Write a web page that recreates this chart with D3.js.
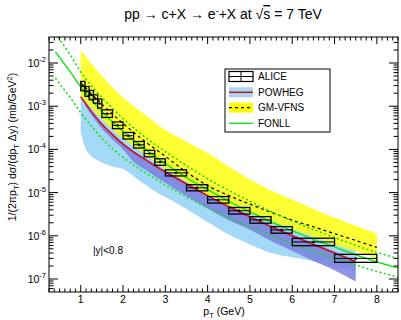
<!DOCTYPE html>
<html>
<head>
<meta charset="utf-8">
<script src="https://cdn.jsdelivr.net/npm/d3@7"></script>
<style>
body { margin: 0; background: #fff; }
svg { font-family: "Liberation Sans", Arial, sans-serif; }
</style>
</head>
<body>
<svg id="chart"></svg>
<script>
// charm electrons, pp at 7 TeV : ALICE data vs POWHEG, GM-VFNS, FONLL

// ALICE points (bins, value, sys up/down relative, stat relative)
const alicePtLow  = [1.0, 1.1, 1.2, 1.3, 1.4, 1.5, 1.75, 2.0, 2.25, 2.5, 2.75, 3.0, 3.5, 4.0, 4.5, 5.0, 5.5, 6.0, 7.0];
const alicePtHigh = [1.1, 1.2, 1.3, 1.4, 1.5, 1.75, 2.0, 2.25, 2.5, 2.75, 3.0, 3.5, 4.0, 4.5, 5.0, 5.5, 6.0, 7.0, 8.0];
const aliceY = [2.93e-3, 2.2e-3, 1.81e-3, 1.47e-3, 1.15e-3, 6.7e-4, 3.6e-4, 2.07e-4, 1.28e-4, 8.0e-5, 5.1e-5, 2.86e-5, 1.29e-5, 6.8e-6, 3.8e-6, 2.33e-6, 1.37e-6, 7.2e-7, 3.0e-7];
const aliceSysUp = [0.28, 0.3, 0.28, 0.25, 0.27, 0.23, 0.2, 0.19, 0.19, 0.19, 0.19, 0.18, 0.18, 0.19, 0.19, 0.19, 0.19, 0.22, 0.24];
const aliceSysDn = [0.22, 0.23, 0.22, 0.2, 0.21, 0.18, 0.16, 0.16, 0.16, 0.16, 0.16, 0.15, 0.15, 0.16, 0.16, 0.16, 0.16, 0.18, 0.19];
const aliceStat = [0.03, 0.03, 0.03, 0.03, 0.03, 0.03, 0.03, 0.03, 0.03, 0.03, 0.03, 0.03, 0.04, 0.04, 0.05, 0.05, 0.06, 0.06, 0.08];

// POWHEG
const powPt = [1.0, 1.1, 1.25, 1.5, 1.75, 2.0, 2.25, 2.5, 2.75, 3.0, 3.5, 4.0, 4.5, 5.0, 5.5, 6.0, 6.5, 7.0, 7.5];
const powCentral = [1.66e-3, 1.2e-3, 7.6e-4, 3.8e-4, 2.2e-4, 1.32e-4, 8.7e-5, 6.0e-5, 4.2e-5, 3.0e-5, 1.58e-5, 8.5e-6, 4.7e-6, 2.75e-6, 1.62e-6, 1.0e-6, 6.3e-7, 4.0e-7, 2.5e-7];
const powUpper = [3.3e-3, 2.4e-3, 1.5e-3, 7.6e-4, 4.4e-4, 2.6e-4, 1.74e-4, 1.2e-4, 8.3e-5, 6.0e-5, 3.2e-5, 1.7e-5, 9.3e-6, 5.5e-6, 3.2e-6, 2.0e-6, 1.26e-6, 7.9e-7, 5.0e-7];
const powLower = [2.5e-4, 1.12e-4, 7.1e-5, 5.0e-5, 4.0e-5, 3.5e-5, 2.4e-5, 1.58e-5, 1.07e-5, 7.9e-6, 4.2e-6, 2.1e-6, 1.07e-6, 6.3e-7, 4.0e-7, 3.2e-7, 2.6e-7, 1.9e-7, 1.58e-7];
// inner (darker) POWHEG band
const powInnerPt = [1.1, 1.25, 1.5, 1.75, 2.0, 2.25, 2.5, 2.75, 3.0, 3.5, 4.0, 4.5, 5.0, 5.5, 6.0, 6.5, 7.0, 7.5];
const powInnerUp = [1.29e-3, 8.1e-4, 4.1e-4, 2.3e-4, 1.41e-4, 9.3e-5, 6.5e-5, 4.5e-5, 3.2e-5, 1.7e-5, 9.1e-6, 5.0e-6, 2.95e-6, 1.74e-6, 1.07e-6, 6.8e-7, 4.3e-7, 2.7e-7];
const powInnerLo = [1.05e-3, 6.3e-4, 3.0e-4, 1.7e-4, 1.0e-4, 5.2e-5, 3.5e-5, 2.4e-5, 1.7e-5, 8.3e-6, 4.3e-6, 2.3e-6, 1.38e-6, 7.6e-7, 4.5e-7, 2.6e-7, 1.6e-7, 8.7e-8];

// GM-VFNS
const gmPt = [1.0, 1.5, 2.0, 2.5, 3.0, 3.5, 4.0, 4.5, 5.0, 5.5, 6.0, 6.5, 7.0, 7.5, 8.0];
const gmCentral = [3.5e-3, 1.12e-3, 4.0e-4, 1.58e-4, 6.9e-5, 3.0e-5, 1.45e-5, 8.5e-6, 5.4e-6, 3.5e-6, 2.3e-6, 1.62e-6, 1.12e-6, 7.8e-7, 5.4e-7];
const gmUpper = [2.0e-2, 5.0e-3, 1.58e-3, 6.6e-4, 2.8e-4, 1.51e-4, 8.3e-5, 4.0e-5, 2.0e-5, 1.12e-5, 6.8e-6, 4.2e-6, 2.6e-6, 1.7e-6, 1.12e-6];
const gmLower = [1.78e-3, 5.0e-4, 1.78e-4, 7.9e-5, 3.5e-5, 1.78e-5, 8.9e-6, 5.0e-6, 3.3e-6, 2.2e-6, 1.41e-6, 9.5e-7, 6.3e-7, 4.4e-7, 3.0e-7];

// FONLL
const fonllPt = [0.4, 0.5, 0.75, 1.0, 1.25, 1.5, 2.0, 2.5, 3.0, 3.5, 4.0, 4.5, 5.0, 5.5, 6.0, 6.5, 7.0, 7.5, 8.0, 8.5];
const fonllCentral = [1.82e-2, 1.35e-2, 6.3e-3, 2.8e-3, 1.4e-3, 7.6e-4, 2.6e-4, 1.05e-4, 4.7e-5, 2.2e-5, 1.17e-5, 6.3e-6, 3.6e-6, 2.1e-6, 1.32e-6, 8.3e-7, 5.5e-7, 3.6e-7, 2.5e-7, 1.8e-7];
const fonllUpper = [4.8e-2, 3.5e-2, 1.55e-2, 6.2e-3, 3.0e-3, 1.6e-3, 5.2e-4, 2.0e-4, 8.9e-5, 4.2e-5, 2.1e-5, 1.12e-5, 6.3e-6, 3.6e-6, 2.2e-6, 1.4e-6, 9.1e-7, 6.0e-7, 4.1e-7, 3.0e-7];
const fonllLower = [4.5e-3, 3.3e-3, 1.6e-3, 7.1e-4, 3.5e-4, 1.8e-4, 6.6e-5, 3.0e-5, 1.5e-5, 7.9e-6, 4.5e-6, 2.6e-6, 1.6e-6, 1.02e-6, 6.6e-7, 4.4e-7, 3.0e-7, 2.1e-7, 1.5e-7, 1.1e-7];

const xMajor = [1, 2, 3, 4, 5, 6, 7, 8];
const yMajor = [1e-7, 1e-6, 1e-5, 1e-4, 1e-3, 1e-2];
const legendItems = ["ALICE", "POWHEG", "GM-VFNS", "FONLL"];

const W = 401, H = 320;
const L = 49, R = 398, T = 37, B = 292;

const svg = d3.select("#chart").attr("width", W).attr("height", H);

const x = d3.scaleLinear().domain([0.25, 8.5]).range([L, R]);
const y = d3.scaleLog().domain([5e-8, 4e-2]).range([B, T]);

svg.append("defs").append("clipPath").attr("id", "plotclip")
	.append("rect").attr("x", L).attr("y", T).attr("width", R - L).attr("height", B - T);

const plot = svg.append("g").attr("clip-path", "url(#plotclip)");

function band(pts, lo, hi){
	return d3.area()
		.x((d, i) => x(pts[i]))
		.y0((d, i) => y(lo[i]))
		.y1((d, i) => y(hi[i]))
		.curve(d3.curveMonotoneX)(pts);
}
function line(pts, vals){
	return d3.line()
		.x((d, i) => x(pts[i]))
		.y((d, i) => y(vals[i]))
		.curve(d3.curveMonotoneX)(pts);
}

// POWHEG bands
plot.append("path").attr("d", band(powPt, powLower, powUpper))
	.attr("fill", "#a3d8f6");
plot.append("path").attr("d", band(powInnerPt, powInnerLo, powInnerUp))
	.attr("fill", "#7b7fe0").attr("opacity", 0.85);
plot.append("path").attr("d", line(powPt, powCentral))
	.attr("fill", "none").attr("stroke", "#d01010").attr("stroke-width", 1.5);

// GM-VFNS
plot.append("path").attr("d", band(gmPt, gmLower, gmUpper))
	.attr("fill", "#ffff00").attr("opacity", 0.8);
plot.append("path").attr("d", line(gmPt, gmCentral))
	.attr("fill", "none").attr("stroke", "#000").attr("stroke-width", 1.2)
	.attr("stroke-dasharray", "3,3");

// FONLL
plot.append("path").attr("d", line(fonllPt, fonllCentral))
	.attr("fill", "none").attr("stroke", "#00e600").attr("stroke-width", 1.3);
[fonllUpper, fonllLower].forEach(v => {
	plot.append("path").attr("d", line(fonllPt, v))
		.attr("fill", "none").attr("stroke", "#00e600").attr("stroke-width", 1.5)
		.attr("stroke-dasharray", "2,2.5");
});

// ALICE
const pts = plot.append("g");
aliceY.forEach((v, i) => {
	let x0 = x(alicePtLow[i]), x1 = x(alicePtHigh[i]);
	let yt = y(v * (1 + aliceSysUp[i])), yb = y(v * (1 - aliceSysDn[i]));
	let yc = y(v), xc = x((alicePtLow[i] + alicePtHigh[i]) / 2);
	pts.append("rect").attr("x", x0).attr("y", yt).attr("width", x1 - x0).attr("height", yb - yt)
		.attr("fill", "none").attr("stroke", "#000").attr("stroke-width", 1.3);
	pts.append("line").attr("x1", x0).attr("x2", x1).attr("y1", yc).attr("y2", yc)
		.attr("stroke", "#000").attr("stroke-width", 1);
	pts.append("line").attr("x1", xc).attr("x2", xc)
		.attr("y1", y(v * (1 + aliceStat[i]))).attr("y2", y(v * (1 - aliceStat[i])))
		.attr("stroke", "#000").attr("stroke-width", 1);
	pts.append("circle").attr("cx", xc).attr("cy", yc).attr("r", 1.2).attr("fill", "#000");
});

// frame and ticks
const ax = svg.append("g").attr("stroke", "#000").attr("stroke-width", 1);
ax.append("rect").attr("x", L).attr("y", T).attr("width", R - L).attr("height", B - T)
	.attr("fill", "none");

let xMinor = d3.range(0.25, 8.5001, 0.125).filter(v => !xMajor.includes(v));
xMajor.forEach(v => {
	ax.append("line").attr("x1", x(v)).attr("x2", x(v)).attr("y1", B).attr("y2", B - 7);
	ax.append("line").attr("x1", x(v)).attr("x2", x(v)).attr("y1", T).attr("y2", T + 7);
});
xMinor.forEach(v => {
	ax.append("line").attr("x1", x(v)).attr("x2", x(v)).attr("y1", B).attr("y2", B - 3.5);
	ax.append("line").attr("x1", x(v)).attr("x2", x(v)).attr("y1", T).attr("y2", T + 3.5);
});

let yMinor = [];
for (let e = -8; e <= -2; e++){
	for (let k = 2; k <= 9; k++){
		let v = k * Math.pow(10, e);
		if (v > 5e-8 && v < 4e-2) yMinor.push(v);
	}
}
yMajor.forEach(v => {
	ax.append("line").attr("x1", L).attr("x2", L + 9).attr("y1", y(v)).attr("y2", y(v));
	ax.append("line").attr("x1", R).attr("x2", R - 9).attr("y1", y(v)).attr("y2", y(v));
});
yMinor.forEach(v => {
	ax.append("line").attr("x1", L).attr("x2", L + 4.5).attr("y1", y(v)).attr("y2", y(v));
	ax.append("line").attr("x1", R).attr("x2", R - 4.5).attr("y1", y(v)).attr("y2", y(v));
});

// tick labels
svg.append("g").selectAll("text").data(xMajor).join("text")
	.attr("x", d => x(d)).attr("y", B + 11)
	.attr("text-anchor", "middle").attr("font-size", 10.5)
	.text(d => d);

const yl = svg.append("g").selectAll("text").data(yMajor).join("text")
	.attr("x", L - 3).attr("y", d => y(d) + 4)
	.attr("text-anchor", "end").attr("font-size", 10.5);
yl.append("tspan").text("10");
yl.append("tspan").attr("dy", -5).attr("font-size", 7.5).text(d => "-" + Math.round(-Math.log10(d)));

// title
const title = svg.append("text").attr("x", 223).attr("y", 19)
	.attr("text-anchor", "middle").attr("font-size", 14);
title.append("tspan").text("pp \u2192 c+X \u2192 e");
title.append("tspan").attr("dy", -5).attr("font-size", 9).text("-");
title.append("tspan").attr("dy", 5).text("+X at \u221A");
title.append("tspan").style("text-decoration", "overline").text("s");
title.append("tspan").text(" = 7 TeV");

// axis titles
const xt = svg.append("text").attr("x", 224).attr("y", 315)
	.attr("text-anchor", "middle").attr("font-size", 10.5);
xt.append("tspan").text("p");
xt.append("tspan").attr("dy", 3).attr("font-size", 7.5).text("T");
xt.append("tspan").attr("dy", -3).text(" (GeV)");

const yt = svg.append("text").attr("transform", "translate(16,147) rotate(-90)")
	.attr("text-anchor", "middle").attr("font-size", 10.5);
yt.append("tspan").text("1/(2\u03C0p");
yt.append("tspan").attr("dy", 3).attr("font-size", 7.5).text("T");
yt.append("tspan").attr("dy", -3).text(") d\u03C3/(dp");
yt.append("tspan").attr("dy", 3).attr("font-size", 7.5).text("T");
yt.append("tspan").attr("dy", -3).text(" \u0394y) (mb/GeV");
yt.append("tspan").attr("dy", -4).attr("font-size", 7.5).text("2");
yt.append("tspan").attr("dy", 4).text(")");

svg.append("text").attr("x", 93).attr("y", 254).attr("font-size", 10).text("|y|<0.8");

// legend
const lg = svg.append("g");
lg.append("rect").attr("x", 225).attr("y", 69).attr("width", 105).attr("height", 63)
	.attr("fill", "#fff").attr("stroke", "#000").attr("stroke-width", 1);
const rowY = [76.5, 92.3, 107.7, 123.3];
// ALICE symbol
lg.append("rect").attr("x", 229).attr("y", rowY[0] - 5).attr("width", 24).attr("height", 10)
	.attr("fill", "none").attr("stroke", "#000").attr("stroke-width", 1.2);
lg.append("line").attr("x1", 229).attr("x2", 253).attr("y1", rowY[0]).attr("y2", rowY[0]).attr("stroke", "#000");
lg.append("line").attr("x1", 241).attr("x2", 241).attr("y1", rowY[0] - 5).attr("y2", rowY[0] + 5).attr("stroke", "#000");
// POWHEG
lg.append("rect").attr("x", 229).attr("y", rowY[1] - 5).attr("width", 24).attr("height", 10).attr("fill", "#a3d8f6");
lg.append("line").attr("x1", 229).attr("x2", 253).attr("y1", rowY[1]).attr("y2", rowY[1])
	.attr("stroke", "#d01010").attr("stroke-width", 1.5);
// GM-VFNS
lg.append("rect").attr("x", 229).attr("y", rowY[2] - 5).attr("width", 24).attr("height", 10).attr("fill", "#ffff00");
lg.append("line").attr("x1", 229).attr("x2", 253).attr("y1", rowY[2]).attr("y2", rowY[2])
	.attr("stroke", "#000").attr("stroke-width", 1.2).attr("stroke-dasharray", "3,3");
// FONLL
lg.append("line").attr("x1", 229).attr("x2", 253).attr("y1", rowY[3]).attr("y2", rowY[3])
	.attr("stroke", "#00e600").attr("stroke-width", 1.3);
lg.selectAll("text.lab").data(legendItems).join("text").attr("class", "lab")
	.attr("x", 258).attr("y", (d, i) => rowY[i] + 3.7)
	.attr("font-size", 10).text(d => d);
</script>
</body>
</html>
